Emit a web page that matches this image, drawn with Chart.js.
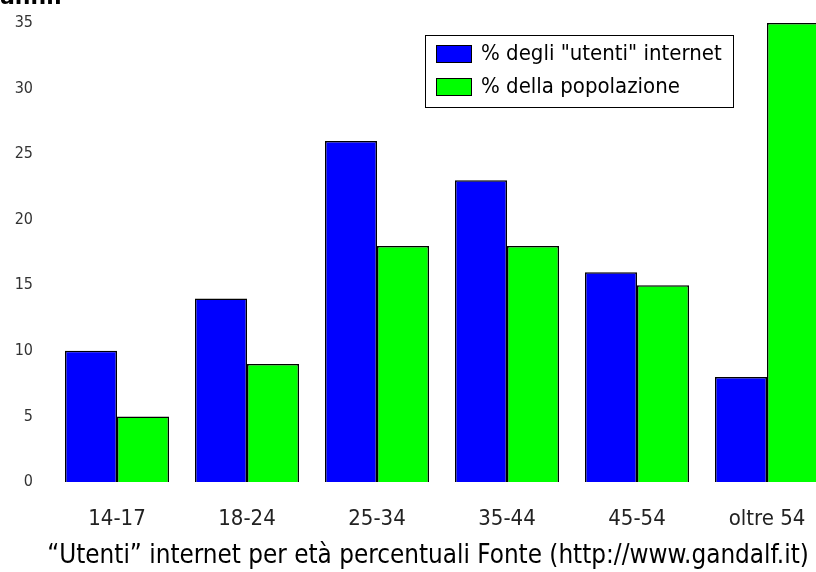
<!DOCTYPE html>
<html>
<head>
<meta charset="utf-8">
<script src="https://cdn.jsdelivr.net/npm/chart.js@4.4.0/dist/chart.umd.min.js"></script>
<style>
  html, body { margin: 0; padding: 0; background: #fff; overflow: hidden; }
  #wrap { position: relative; width: 832px; height: 572px; }
  #top { position: absolute; left: 0; top: -16px; font: bold 22px "DejaVu Sans"; color: #000; }
  #caption { position: absolute; left: 0; width: 856px; top: 539px; text-align: center;
             font: 25.8px/30px "DejaVu Sans Condensed"; color: #000; white-space: nowrap; }
</style>
</head>
<body>
<div id="wrap">
  <div id="top">anni.</div>
  <canvas id="chart" width="832" height="572"></canvas>
  <div id="caption"></div>
</div>
<script>
const categories = ['14-17', '18-24', '25-34', '35-44', '45-54', 'oltre 54'];
const utenti = [10, 14, 26, 23, 16, 8];
const popolazione = [5, 9, 18, 18, 15, 35];
const yTicks = [0, 5, 10, 15, 20, 25, 30, 35];
const seriesLabels = ['% degli "utenti" internet', '% della popolazione'];
const caption = '\u201cUtenti\u201d internet per et\u00e0 percentuali Fonte (http://www.gandalf.it)';

document.getElementById('caption').textContent = caption;

// legend drawn as a white bordered box inside the plot
const boxLegend = {
  id: 'boxLegend',
  afterDraw(chart) {
    const ctx = chart.ctx;
    const x = 425, y = 35, w = 308, h = 72;
    ctx.save();
    ctx.fillStyle = '#fff';
    ctx.fillRect(x, y, w, h);
    ctx.strokeStyle = '#000';
    ctx.lineWidth = 1;
    ctx.strokeRect(x + 0.5, y + 0.5, w, h);
    ctx.font = '22px "DejaVu Sans Condensed"';
    ctx.textBaseline = 'middle';
    chart.data.datasets.forEach((ds, i) => {
      const ry = y + 10 + i * 33;
      ctx.fillStyle = ds.backgroundColor;
      ctx.fillRect(x + 11, ry, 36, 18);
      ctx.strokeStyle = '#000';
      ctx.strokeRect(x + 11.5, ry + 0.5, 35, 17);
      ctx.fillStyle = '#000';
      ctx.fillText(ds.label, x + 56, ry + 9);
    });
    ctx.restore();
  }
};

new Chart(document.getElementById('chart'), {
  type: 'bar',
  data: {
    labels: categories,
    datasets: [
      { label: seriesLabels[0], data: utenti, backgroundColor: '#0000ff', borderColor: '#000', borderWidth: 1.5 },
      { label: seriesLabels[1], data: popolazione, backgroundColor: '#00ff00', borderColor: '#000', borderWidth: 1.5 }
    ]
  },
  options: {
    responsive: false,
    animation: false,
    layout: { padding: { top: 23, left: 0, right: 0, bottom: 0 } },
    plugins: {
      legend: { display: false },
      tooltip: { enabled: false },
      title: { display: false }
    },
    datasets: { bar: { categoryPercentage: 0.8, barPercentage: 1.0 } },
    scales: {
      x: {
        grid: { display: false, drawTicks: false },
        border: { display: false },
        ticks: { color: '#222', padding: 24, font: { family: '"DejaVu Sans Condensed"', size: 22 } },
        afterFit(scale) { scale.height = 90; scale.paddingLeft = 0; scale.paddingRight = 0; }
      },
      y: {
        min: 0, max: 35,
        afterBuildTicks(scale) { scale.ticks = yTicks.map(v => ({ value: v })); },
        grid: { display: false, drawTicks: false },
        border: { display: false },
        ticks: { color: '#333', padding: 19, font: { family: '"DejaVu Sans Condensed"', size: 16 } },
        afterFit(scale) { scale.width = 52; scale.paddingTop = 0; scale.paddingBottom = 0; }
      }
    }
  },
  plugins: [boxLegend]
});
</script>
</body>
</html>
